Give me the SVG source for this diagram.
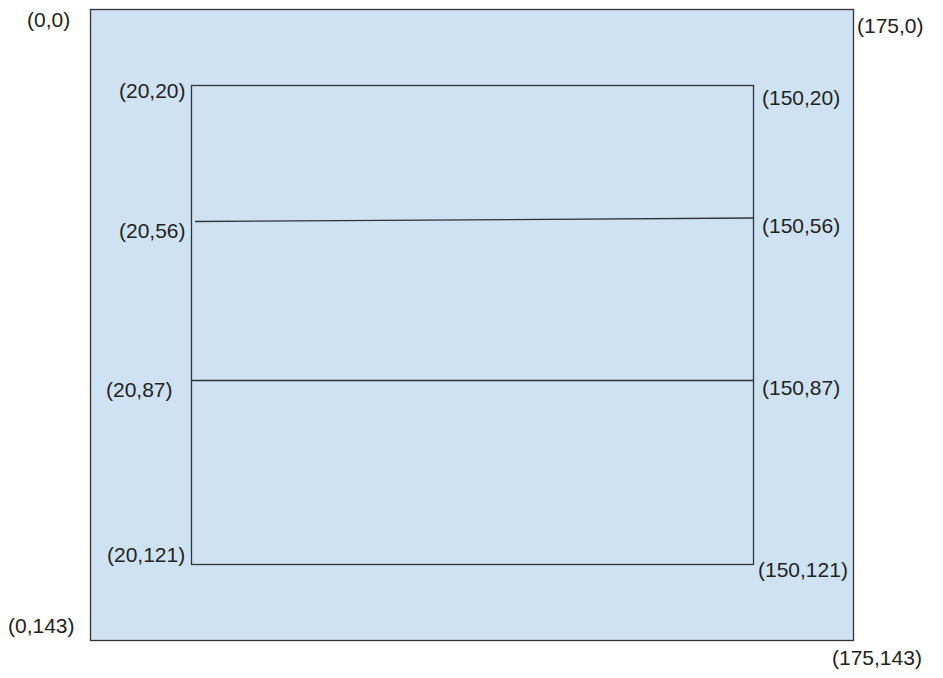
<svg xmlns="http://www.w3.org/2000/svg" width="943" height="678" viewBox="0 0 943 678">
<style>
.lbl{font-family:"Liberation Sans",Arial,sans-serif;font-size:21px;fill:#222}
.box{stroke:#333;stroke-width:1.3}
</style>
<rect width="943" height="678" fill="#fff"/>
<g id="outer">
<rect class="box" x="90.5" y="9.5" width="763" height="631" fill="#cfe2f3"/>
</g>
<g id="inner">
<rect class="box" x="191.5" y="85.5" width="562" height="479" fill="none"/>
</g>
<g id="connectors">
<line class="box" x1="195" y1="221.5" x2="754" y2="218"/>
<line class="box" x1="191" y1="380.5" x2="754" y2="380.5"/>
</g>
<g id="labels">
<text class="lbl" x="27" y="27">(0,0)</text>
<text class="lbl" x="857" y="33">(175,0)</text>
<text class="lbl" x="119" y="98">(20,20)</text>
<text class="lbl" x="762" y="105">(150,20)</text>
<text class="lbl" x="119" y="238">(20,56)</text>
<text class="lbl" x="762" y="233">(150,56)</text>
<text class="lbl" x="106" y="397">(20,87)</text>
<text class="lbl" x="762" y="395">(150,87)</text>
<text class="lbl" x="107" y="562">(20,121)</text>
<text class="lbl" x="758" y="577">(150,121)</text>
<text class="lbl" x="8" y="633">(0,143)</text>
<text class="lbl" x="832" y="665">(175,143)</text>
</g>
</svg>
